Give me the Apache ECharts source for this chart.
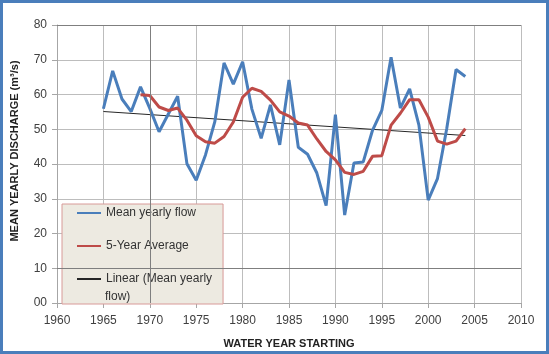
<!DOCTYPE html>
<html>
<head>
<meta charset="utf-8">
<style>
  html, body { margin: 0; padding: 0; background: #fff; }
  #main { width: 549px; height: 354px; }
</style>
<script src="https://cdn.jsdelivr.net/npm/echarts@6/dist/echarts.min.js"></script>
</head>
<body>
<div id="main"></div>
<script>
  // 数据
  var flowYears = [1965, 1966, 1967, 1968, 1969, 1970, 1971, 1972, 1973, 1974,
    1975, 1976, 1977, 1978, 1979, 1980, 1981, 1982, 1983, 1984,
    1985, 1986, 1987, 1988, 1989, 1990, 1991, 1992, 1993, 1994,
    1995, 1996, 1997, 1998, 1999, 2000, 2001, 2002, 2003, 2004];
  var meanFlow = [55.9, 66.8, 58.7, 55.1, 62.2, 56.0, 49.3, 54.4, 59.5, 40.1,
    35.3, 42.6, 52.1, 69.1, 63.0, 69.4, 55.8, 47.4, 57.0, 45.5,
    64.2, 44.8, 42.8, 37.4, 28.0, 54.2, 25.3, 40.3, 40.6, 49.7,
    55.4, 70.7, 56.1, 61.6, 51.2, 29.6, 35.8, 50.2, 67.2, 65.2];

  var avgYears = [1969, 1970, 1971, 1972, 1973, 1974, 1975, 1976, 1977, 1978,
    1979, 1980, 1981, 1982, 1983, 1984, 1985, 1986, 1987, 1988,
    1989, 1990, 1991, 1992, 1993, 1994, 1995, 1996, 1997, 1998,
    1999, 2000, 2001, 2002, 2003, 2004];
  var fiveYearAvg = [59.9, 59.7, 56.4, 55.4, 56.1, 52.6, 48.1, 46.4, 46.0, 47.9,
    52.1, 59.2, 61.8, 60.9, 58.4, 55.0, 53.8, 51.8, 51.2, 47.2,
    43.6, 41.2, 37.6, 37.0, 37.9, 42.2, 42.4, 51.2, 54.6, 58.5,
    58.5, 53.5, 46.6, 45.7, 46.6, 50.2];

  var trendYears = [1965, 2004];
  var trendValues = [55.1, 48.2];

  var seriesNames = ["Mean yearly flow", "5-Year Average", "Linear (Mean yearly flow)"];

  function pairs(xs, ys) {
    return xs.map(function (x, i) { return [x, ys[i]]; });
  }

  (function () {
    var myChart = echarts.init(document.getElementById("main"));
    var labelFont = "Liberation Sans";

    var option = {
      animation: false,
      color: ["#4a7ebb", "#be4b48", "#404040"],
      graphic: [
        {
          // 外框
          type: "rect",
          shape: { x: 1.5, y: 1.5, width: 546, height: 351 },
          style: { fill: "none", stroke: "#4a7ebb", lineWidth: 3 },
          silent: true
        },
        {
          // 图例第三项的换行文字
          type: "text",
          left: 105,
          top: 291,
          z: 100,
          style: {
            text: "flow)",
            font: "12px " + labelFont,
            fill: "#333"
          },
          silent: true
        }
      ],
      grid: {
        left: 57,
        right: 28,
        top: 25,
        bottom: 47
      },
      legend: {
        orient: "vertical",
        left: 62,
        top: 204,
        itemGap: 15,
        itemWidth: 24,
        itemHeight: 10,
        padding: [0, 11, 16, 14],
        backgroundColor: "#edeae1",
        borderColor: "#d89a98",
        borderWidth: 1,
        itemStyle: { opacity: 0 },
        data: seriesNames,
        formatter: function (name) {
          return name === seriesNames[2] ? "Linear (Mean yearly" : name;
        },
        textStyle: {
          fontFamily: labelFont,
          fontSize: 12,
          color: "#333",
          lineHeight: 18
        }
      },
      xAxis: {
        type: "value",
        min: 1960,
        max: 2010,
        interval: 5,
        name: "WATER YEAR STARTING",
        nameLocation: "middle",
        nameGap: 35,
        nameTextStyle: {
          fontFamily: labelFont,
          fontSize: 11,
          fontWeight: "bold",
          color: "#222"
        },
        axisLine: { lineStyle: { color: "#a6a6a6" } },
        axisTick: { show: true, inside: false, length: 5, lineStyle: { color: "#a6a6a6" } },
        axisLabel: {
          margin: 12,
          fontFamily: labelFont,
          fontSize: 12,
          color: "#404040",
          formatter: function (v) {
            return String(v);
          }
        },
        splitLine: { lineStyle: { color: "#bdbdbd" } }
      },
      yAxis: {
        type: "value",
        min: 0,
        max: 80,
        interval: 10,
        name: "MEAN YEARLY DISCHARGE (m³/s)",
        nameLocation: "middle",
        nameRotate: 90,
        nameGap: 37,
        nameTextStyle: {
          fontFamily: labelFont,
          fontSize: 11,
          fontWeight: "bold",
          color: "#222",
          padding: [0, 0, 0, 26]
        },
        axisLine: { show: true, lineStyle: { color: "#a6a6a6" } },
        axisTick: { show: true, length: 5, lineStyle: { color: "#a6a6a6" } },
        axisLabel: {
          margin: 10,
          fontFamily: labelFont,
          fontSize: 12,
          color: "#404040",
          formatter: function (v) {
            return v < 10 ? "0" + v : String(v);
          }
        },
        splitLine: { lineStyle: { color: "#bdbdbd" } }
      },
      series: [
        {
          name: seriesNames[0],
          type: "line",
          data: pairs(flowYears, meanFlow),
          showSymbol: false,
          symbol: "none",
          lineStyle: { width: 3, color: "#4a7ebb" },
          z: 3
        },
        {
          name: seriesNames[1],
          type: "line",
          data: pairs(avgYears, fiveYearAvg),
          showSymbol: false,
          symbol: "none",
          lineStyle: { width: 3, color: "#be4b48" },
          z: 4
        },
        {
          name: seriesNames[2],
          type: "line",
          data: pairs(trendYears, trendValues),
          showSymbol: false,
          symbol: "none",
          lineStyle: { width: 1, color: "#262626" },
          z: 2,
          // 图中颜色较深的网格线
          markLine: {
            silent: true,
            symbol: "none",
            label: { show: false },
            lineStyle: { color: "#7f7f7f", width: 1, type: "solid" },
            data: [{ xAxis: 1970 }, { yAxis: 10 }, { yAxis: 80 }]
          }
        }
      ]
    };

    myChart.setOption(option);
    window.addEventListener("resize", function () {
      myChart.resize();
    });
  })();
</script>
</body>
</html>
